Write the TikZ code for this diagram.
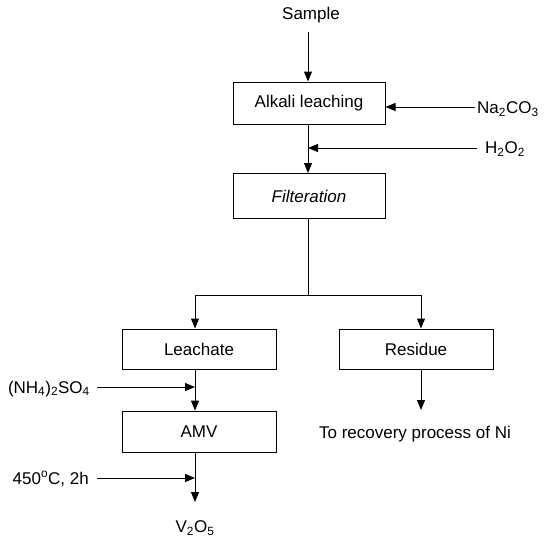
\documentclass[tikz,border=0pt]{standalone}
\usepackage{fontspec}
\setmainfont{Liberation Sans}
\usetikzlibrary{arrows.meta}
\begin{document}
\begin{tikzpicture}[x=1pt,y=-1pt,
  font=\fontsize{17}{20}\selectfont,
  box/.style={draw,line width=1pt,minimum width=152pt,minimum height=42pt,inner sep=0pt},
  lbl/.style={inner sep=0pt},
  conn/.style={line width=1pt},
  arr/.style={line width=1pt,-{Triangle[length=10pt,width=8pt]}}]
\useasboundingbox (0,0) rectangle (545,538);
% nodes
\node[lbl] (sample) at (311,15) {Sample};
\node[box] (alkali) at (309,103) {Alkali leaching};
\node[lbl,anchor=west] (na) at (477,109) {Na\textsubscript{2}CO\textsubscript{3}};
\node[lbl,anchor=west] (h2o2) at (485,149) {H\textsubscript{2}O\textsubscript{2}};
\node[box,minimum height=45pt] (filt) at (309,196) {\itshape Filteration};
\node[box,minimum width=154pt,minimum height=40pt] (leach) at (199,349) {Leachate};
\node[box,minimum width=154pt,minimum height=40pt] (res) at (416,349) {Residue};
\node[lbl,anchor=east] (nh4) at (90,389) {(NH\textsubscript{4})\textsubscript{2}SO\textsubscript{4}};
\node[box,minimum width=154pt,minimum height=41pt] (amv) at (199,431.5) {AMV};
\node[lbl,anchor=east] (temp) at (89,479) {450\textsuperscript{o}C, 2h};
\node[lbl] (v2o5) at (195,528) {V\textsubscript{2}O\textsubscript{5}};
\node[lbl] (ni) at (415,434) {To recovery process of Ni};
% coordinates
\coordinate (s0) at (308,32);
\coordinate (naS) at (475,107);
\coordinate (hS) at (477,148);
\coordinate (hE) at (308,148);
\coordinate (split) at (308,295);
\coordinate (nS) at (97,387);
\coordinate (nE) at (195,387);
\coordinate (tS) at (97,478);
\coordinate (tE) at (195,478);
\coordinate (vE) at (195,502);
\coordinate (rE) at (421,410);
% connectors
\draw[arr] (s0) -- (s0 |- alkali.north);
\draw[arr] (naS) -- (naS -| alkali.east);
\draw[arr] (s0 |- alkali.south) -- (s0 |- filt.north);
\draw[arr] (hS) -- (hE);
\draw[conn] (s0 |- filt.south) -- (split);
\draw[arr] (split) -| (nE |- leach.north);
\draw[arr] (split) -| (rE |- res.north);
\draw[arr] (nE |- leach.south) -- (nE |- amv.north);
\draw[arr] (nS) -- (nE);
\draw[arr] (tS) -- (tE);
\draw[arr] (tE |- amv.south) -- (vE);
\draw[arr] (rE |- res.south) -- (rE);
\end{tikzpicture}
\end{document}
